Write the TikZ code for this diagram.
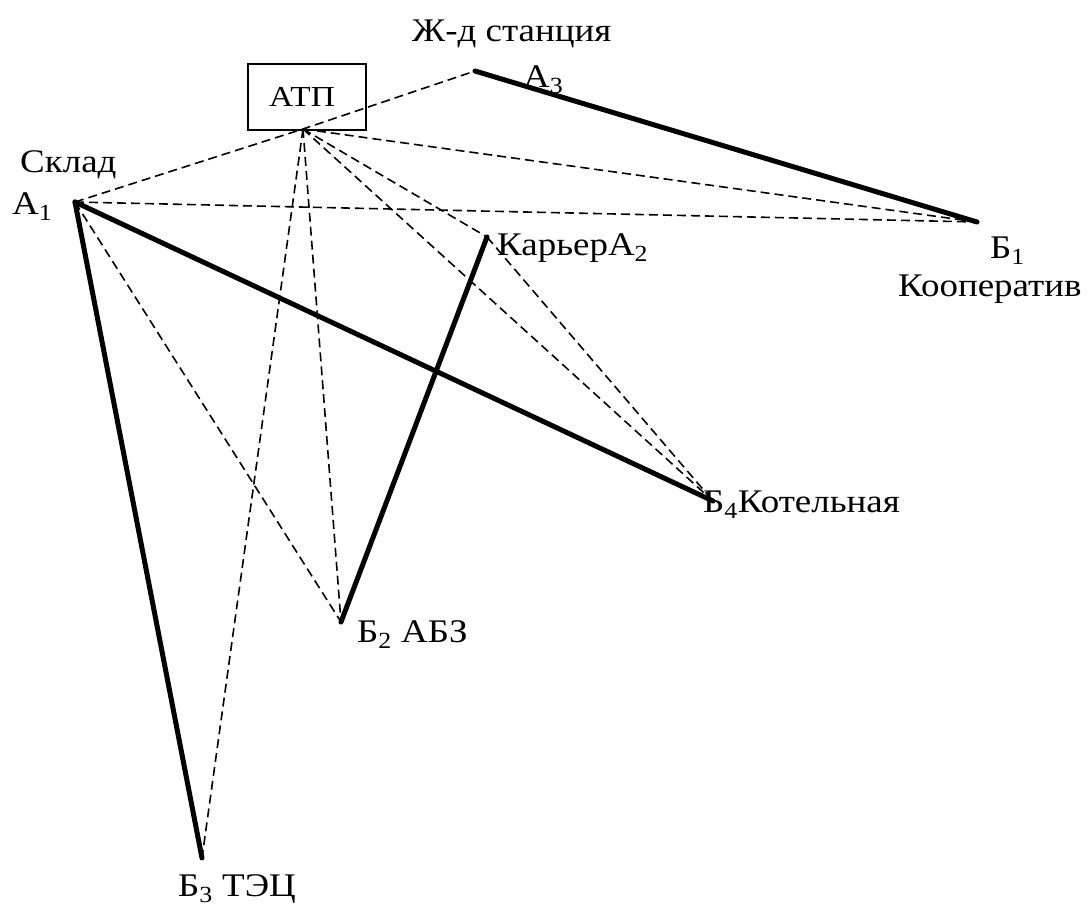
\documentclass[tikz,border=0pt]{standalone}
\usepackage{fontspec}
\setmainfont{Liberation Serif}
\usetikzlibrary{positioning}

\tikzset{
  road/.style={line width=5pt, line cap=round},
  route/.style={line width=1.6pt, dash pattern=on 9pt off 5pt},
  lbl/.style={anchor=base west, inner sep=0pt, font=\fontsize{33}{40}\selectfont, xscale=1.12, transform shape},
}

\begin{document}
\begin{tikzpicture}[x=1pt,y=-1pt]
\useasboundingbox (0,0) rectangle (1089,907);

% les points
\coordinate (A1) at (75,202);
\coordinate (A2) at (487,237);
\coordinate (A3) at (475,71);
\coordinate (B1) at (977,222);
\coordinate (B2) at (341,622);
\coordinate (B3) at (202,858);
\coordinate (B4) at (713,501);

\node[draw, line width=1.4pt, minimum width=118pt, minimum height=66pt, inner sep=0pt,
      font=\fontsize{29}{34}\selectfont] (atpbox) at (307,97) {\hspace*{-10pt}\scalebox{1.15}[1]{АТП}};
\coordinate (atp) at (303,129);

% les trajets a vide
\draw[route] (A1) -- (atp) -- (A3);
\draw[route] (atp) -- (B1);
\draw[route] (atp) -- (A2);
\draw[route] (atp) -- (B4);
\draw[route] (atp) -- (B2);
\draw[route] (atp) -- (B3);
\draw[route] (A1) -- (B1);
\draw[route] (A1) -- (B2);
\draw[route] (A2) -- (B4);

% les trajets en charge
\draw[road] (A3) -- (B1);
\draw[road] (A1) -- (B4);
\draw[road] (A2) -- (B2);
\draw[road] (A1) -- (B3);

% les noms
\node[lbl] (station) at (412,42) {Ж-д станция};
\node[lbl] (lA3) at (523,87) {А\textsubscript{3}};
\node[lbl] (sklad) at (20,172) {Склад};
\node[lbl] (lA1) at (12,214) {А\textsubscript{1}};
\node[lbl] (lA2) at (497,255) {КарьерА\textsubscript{2}};
\node[lbl] (lB1) at (990,258) {Б\textsubscript{1}};
\node[lbl] (koop) at (898,296) {Кооператив};
\node[lbl] (lB4) at (703,512) {Б\textsubscript{4}Котельная};
\node[lbl] (lB2) at (357,642) {Б\textsubscript{2} АБЗ};
\node[lbl] (lB3) at (178,896) {Б\textsubscript{3} ТЭЦ};

\end{tikzpicture}
\end{document}
